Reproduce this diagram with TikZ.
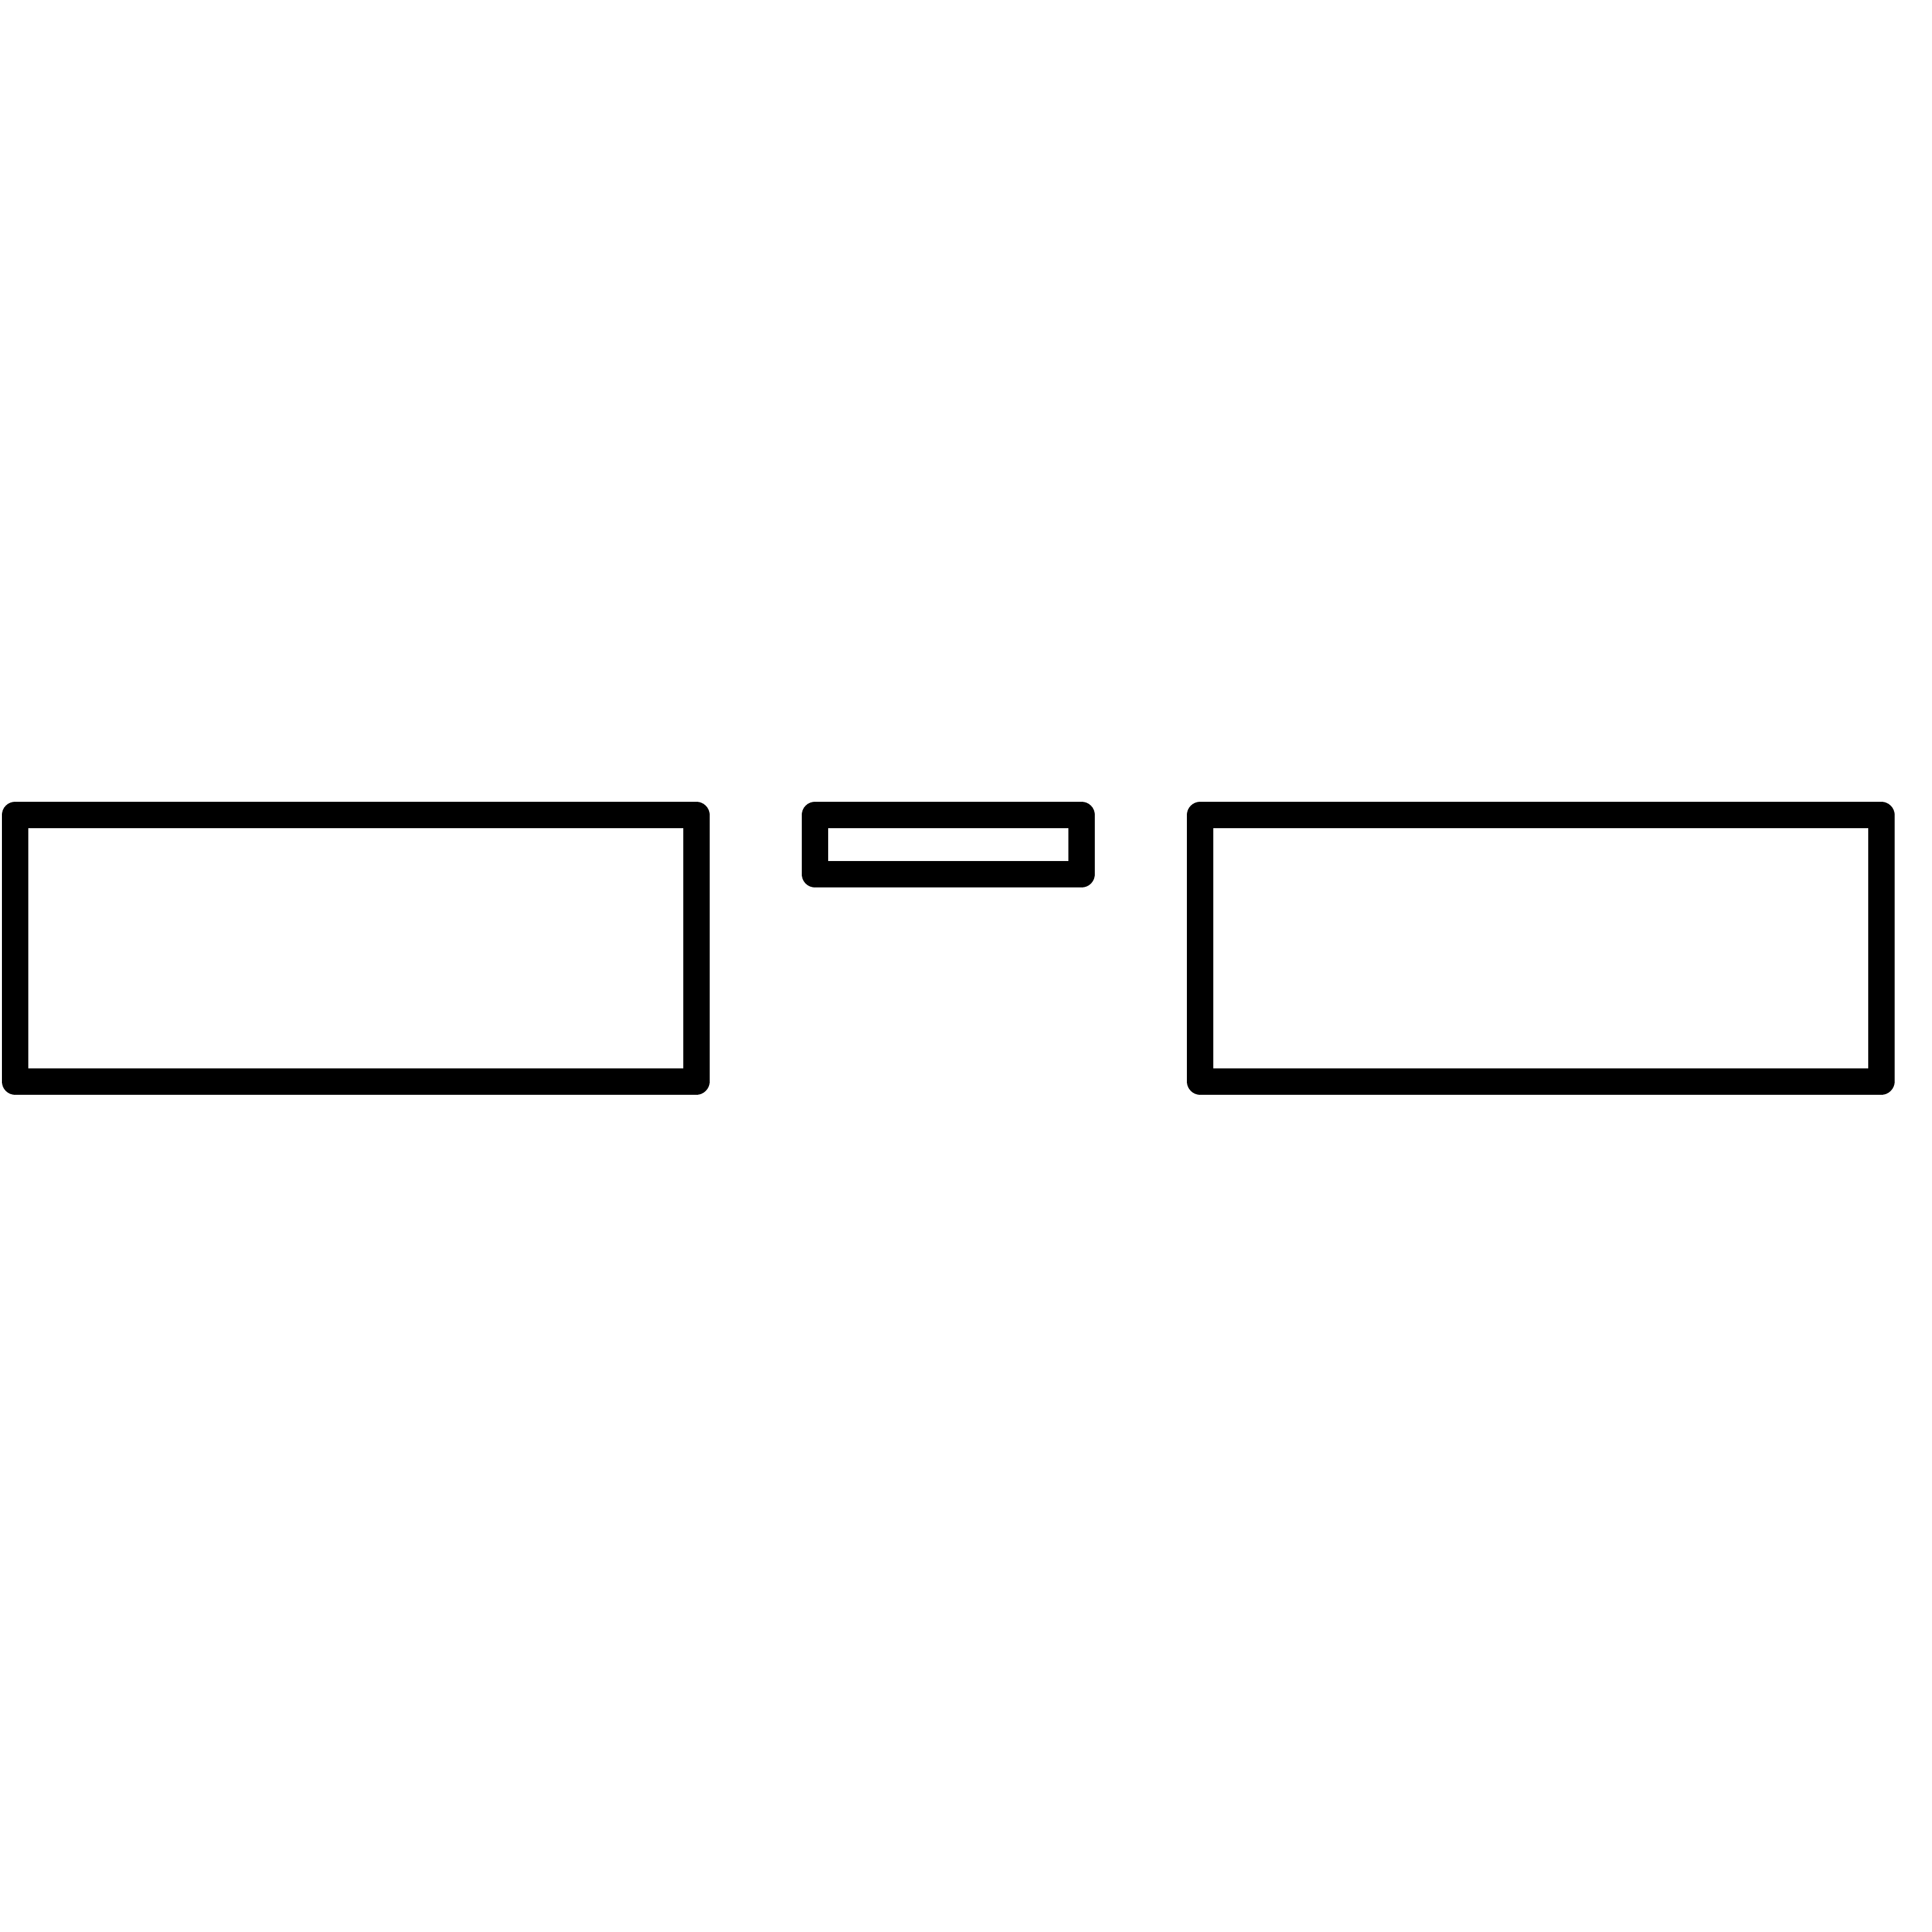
\documentclass[tikz,border=0pt]{standalone}
\begin{document}
\begin{tikzpicture}
\tikzset{panel/.style={draw=black, line width=0.41cm, line join=round, rectangle, inner sep=0pt, outer sep=0pt, fill=none}}
\useasboundingbox[fill=white] (0,0) rectangle (30,30);
\node[panel, minimum width=10.575cm, minimum height=4.14cm] (left) at (5.5225,15.275) {};
\node[panel, minimum width=4.14cm, minimum height=0.92cm] (mid) at (14.725,16.885) {};
\node[panel, minimum width=10.5725cm, minimum height=4.14cm] (right) at (23.924,15.275) {};
\end{tikzpicture}
\end{document}
